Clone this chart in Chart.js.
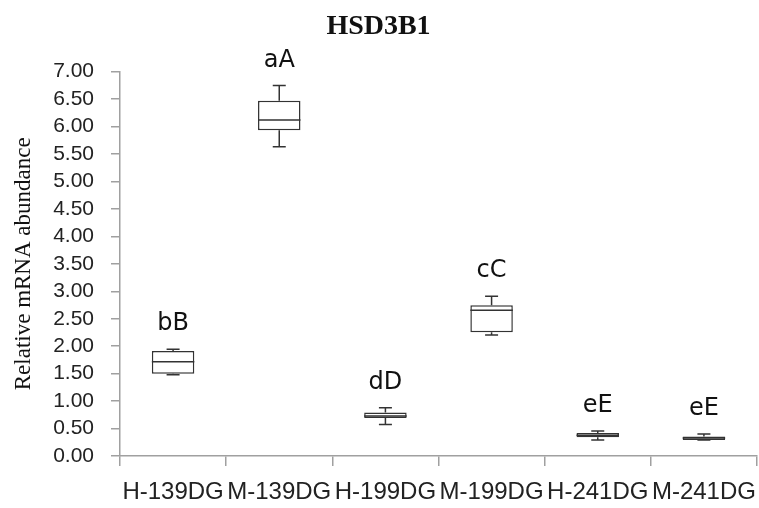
<!DOCTYPE html>
<html><head><meta charset="utf-8">
<script src="https://cdn.jsdelivr.net/npm/chart.js@4/dist/chart.umd.min.js"></script>
<style>html,body{margin:0;padding:0;background:#fff}#wrap{width:759px;height:508px;position:relative}</style>
</head><body><div id="wrap"><canvas id="c"></canvas></div>
<script>
const categories = ['H-139DG','M-139DG','H-199DG','M-199DG','H-241DG','M-241DG'];
const minValues    = [1.48, 5.63, 0.575, 2.205, 0.29, 0.29];
const q1Values     = [1.50, 5.93, 0.69,  2.255, 0.34, 0.29];
const medianValues = [1.715,6.12, 0.73,  2.655, 0.38, 0.33];
const q3Values     = [1.91, 6.47, 0.79,  2.745, 0.42, 0.357];
const maxValues    = [1.945,6.745,0.88,  2.91,  0.455,0.40];
const groupLetters = ['bB','aA','dD','cC','eE','eE'];
const yMin = 0, yMax = 7, yStep = 0.5;

const lineColor = '#333333';

const boxPlugin = {
  id: 'boxWhiskers',
  afterDatasetsDraw(chart) {
    const ctx = chart.ctx;
    const xs = chart.scales.x, ys = chart.scales.y;
    const meta = chart.getDatasetMeta(0);
    ctx.save();
    ctx.strokeStyle = lineColor;
    ctx.lineWidth = 1.5;
    categories.forEach((c, i) => {
      const x = xs.getPixelForValue(i);
      const w = meta.data[i].width;
      const capW = 13;
      const yMaxP = ys.getPixelForValue(maxValues[i]);
      const yQ3 = ys.getPixelForValue(q3Values[i]);
      const yQ1 = ys.getPixelForValue(q1Values[i]);
      const yMinP = ys.getPixelForValue(minValues[i]);
      const yMed = ys.getPixelForValue(medianValues[i]);
      ctx.beginPath();
      ctx.moveTo(x, yQ3); ctx.lineTo(x, yMaxP);
      ctx.moveTo(x - capW/2, yMaxP); ctx.lineTo(x + capW/2, yMaxP);
      ctx.moveTo(x, yQ1); ctx.lineTo(x, yMinP);
      ctx.moveTo(x - capW/2, yMinP); ctx.lineTo(x + capW/2, yMinP);
      ctx.moveTo(x - w/2, yMed); ctx.lineTo(x + w/2, yMed);
      ctx.stroke();
      ctx.fillStyle = '#111';
      ctx.font = '24px "DejaVu Sans"';
      ctx.textAlign = 'center';
      ctx.textBaseline = 'middle';
      ctx.fillText(groupLetters[i], x, yMaxP - 25);
    });
    ctx.restore();
  }
};

new Chart(document.getElementById('c'), {
  type: 'bar',
  data: {
    labels: categories,
    datasets: [{
      data: categories.map((c, i) => [q1Values[i], q3Values[i]]),
      backgroundColor: '#ffffff',
      borderColor: lineColor,
      borderWidth: 1.5,
      borderSkipped: false,
      barPercentage: 0.4,
      categoryPercentage: 1.0
    }]
  },
  options: {
    responsive: true,
    maintainAspectRatio: false,
    animation: false,
    devicePixelRatio: 1,
    layout: { padding: { left: 0, right: 2, top: 0, bottom: 0 } },
    plugins: {
      legend: { display: false },
      tooltip: { enabled: false },
      title: {
        display: true,
        text: 'HSD3B1',
        color: '#111',
        font: { family: '"Liberation Serif"', size: 28, weight: 'bold' },
        padding: { top: 10, bottom: 28 }
      }
    },
    scales: {
      x: {
        offset: true,
        grid: { display: true, offset: true, drawOnChartArea: false, drawTicks: true, tickLength: 10, color: '#a0a0a0', lineWidth: 1.5 },
        border: { display: true, color: '#a0a0a0', width: 1.5 },
        ticks: { color: '#222', font: { family: '"Liberation Sans"', size: 24, lineHeight: 1.0 }, padding: 14, autoSkip: false, maxRotation: 0, minRotation: 0 },
        afterFit: s => { s.height = 52; s.paddingLeft = 0; s.paddingRight = 0; }
      },
      y: {
        min: yMin, max: yMax,
        grid: { display: true, drawOnChartArea: false, drawTicks: true, tickLength: 9, color: '#a0a0a0', lineWidth: 1.5 },
        border: { display: true, color: '#a0a0a0', width: 1.5 },
        ticks: { stepSize: yStep, autoSkip: false, color: '#222', font: { family: '"Liberation Sans"', size: 21 }, padding: 17, callback: v => Number(v).toFixed(2) },
        title: { display: true, text: 'Relative mRNA abundance', color: '#111', font: { family: '"Liberation Serif"', size: 23 }, padding: { top: 10, bottom: 0 } },
        afterFit: s => { s.width = 120; }
      }
    }
  },
  plugins: [boxPlugin]
});
</script>
</body></html>
